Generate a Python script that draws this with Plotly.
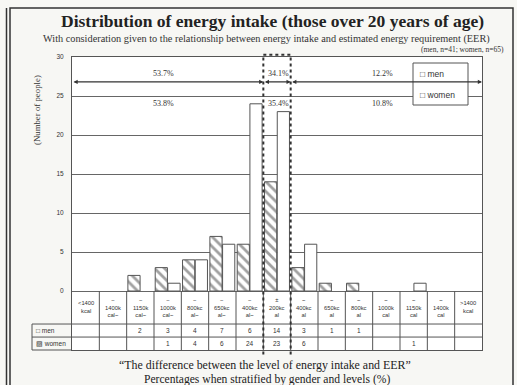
import plotly.graph_objects as go

# ---------------- data ----------------
categories = ["<1400", "-1400", "-1150", "-1000", "-800", "-650", "-400", "±200",
              "+400", "+650", "+800", "+1000", "+1150", "+1400", ">1400"]
cat_labels = ["<1400<br>kcal", "−<br>1400k<br>cal~", "−<br>1150k<br>cal~", "−<br>1000k<br>cal~",
              "−<br>800kc<br>al~", "−<br>650kc<br>al~", "−<br>400kc<br>al~", "±<br>200kc<br>al",
              "~<br>400kc<br>al", "~<br>650kc<br>al", "~<br>800kc<br>al", "~<br>1000k<br>cal",
              "~<br>1150k<br>cal", "~<br>1400k<br>cal", ">1400<br>kcal"]
men = [0, 0, 2, 3, 4, 7, 6, 14, 3, 1, 1, 0, 0, 0, 0]
women = [0, 0, 0, 1, 4, 6, 24, 23, 6, 0, 0, 0, 1, 0, 0]
men_pct = ["53.7%", "34.1%", "12.2%"]
women_pct = ["53.8%", "35.4%", "10.8%"]
y_ticks = [0, 5, 10, 15, 20, 25, 30]

# ---------------- style constants ----------------
YMIN, YMAX = -7.56, 30
LINE = "#555555"
TXT = "#333333"
SERIF = "Liberation Serif"
SANS = "Liberation Sans"
n = len(categories)


def py(v):  # data y -> paper y
    return (v - YMIN) / (YMAX - YMIN)


def px_x(p):  # pixel x -> paper x
    return (p - 72) / 410


def px_y(p):  # pixel y -> paper y
    return (350 - p) / 293


def note(**kw):
    kw.setdefault("showarrow", False)
    kw.setdefault("xanchor", "center")
    kw.setdefault("yanchor", "middle")
    return kw


fig = go.Figure()
fig.add_trace(go.Bar(
    x=categories, y=[v if v else None for v in men], name="men",
    marker=dict(color="white", line=dict(color=LINE, width=1),
                pattern=dict(shape="\\", fgcolor="#444444", bgcolor="white", size=7, solidity=0.4)),
))
fig.add_trace(go.Bar(
    x=categories, y=[v if v else None for v in women], name="women",
    marker=dict(color="white", line=dict(color=LINE, width=1)),
))

shapes = []
annotations = []

# table: column separators
for i in range(n - 1):
    shapes.append(dict(type="line", xref="x", yref="y", x0=i + 0.5, x1=i + 0.5, y0=0, y1=YMIN,
                       line=dict(color=LINE, width=1)))
row_top, row_mid = -4.23, -5.9
row_label_x = px_x(32)
for yv in [row_top, row_mid]:
    shapes.append(dict(type="line", xref="paper", yref="paper", x0=row_label_x, x1=1,
                       y0=py(yv), y1=py(yv), line=dict(color=LINE, width=1)))
shapes.append(dict(type="line", xref="paper", yref="paper", x0=row_label_x, x1=0,
                   y0=0, y1=0, line=dict(color=LINE, width=1)))
shapes.append(dict(type="line", xref="paper", yref="paper", x0=row_label_x, x1=row_label_x,
                   y0=0, y1=py(row_top), line=dict(color=LINE, width=1)))

# category labels and values (positioned by category index)
for i, (lab, m, w) in enumerate(zip(cat_labels, men, women)):
    annotations.append(note(x=i, y=-2.1, xref="x", yref="y", text=lab,
                            font=dict(size=5.8, color=TXT, family=SANS)))
    if m:
        annotations.append(note(x=i, y=(row_top + row_mid) / 2, xref="x", yref="y", text=str(m),
                                font=dict(size=6.5, color=TXT, family=SANS)))
    if w:
        annotations.append(note(x=i, y=(row_mid + YMIN) / 2, xref="x", yref="y", text=str(w),
                                font=dict(size=6.5, color=TXT, family=SANS)))
annotations.append(note(x=px_x(34), y=(row_top + row_mid) / 2, xref="paper", yref="y", xanchor="left",
                        text="□ men", font=dict(size=6.5, color=TXT, family=SANS)))
annotations.append(note(x=px_x(34), y=(row_mid + YMIN) / 2, xref="paper", yref="y", xanchor="left",
                        text="▨ women", font=dict(size=6.5, color=TXT, family=SANS)))

# dotted box around ±200 column
ci = categories.index("±200")
box_line = dict(color="#333333", width=2, dash="dot")
for xv in [ci - 0.5, ci + 0.5]:
    shapes.append(dict(type="line", xref="x", yref="paper", x0=xv, x1=xv, y0=-0.015, y1=1.008,
                       line=box_line, layer="above"))
shapes.append(dict(type="line", xref="x", yref="paper", x0=ci - 0.5, x1=ci + 0.5, y0=1.008, y1=1.008,
                   line=box_line, layer="above"))

# percentage arrows
arrow_y = 26.8
segments = [(-0.5, ci - 0.5), (ci - 0.5, ci + 0.5), (ci + 0.5, n - 0.5)]
label_x = [2.85, ci + 0.07, 10.85]
for (a, b), mp, wp, lx in zip(segments, men_pct, women_pct, label_x):
    annotations.append(dict(x=b, y=arrow_y, ax=a, ay=arrow_y, xref="x", yref="y", axref="x", ayref="y",
                            text="", showarrow=True, arrowhead=2, arrowsize=0.7, arrowwidth=1.2,
                            arrowside="end+start", arrowcolor="#333333", standoff=0, startstandoff=0))
    annotations.append(note(x=lx, y=27.9, xref="x", yref="y", text=mp,
                            font=dict(size=8, color=TXT, family=SERIF)))
    annotations.append(note(x=lx, y=24.0, xref="x", yref="y", text=wp,
                            font=dict(size=8, color=TXT, family=SERIF)))

# custom legend
shapes.append(dict(type="rect", xref="paper", yref="paper", x0=px_x(413), x1=px_x(468),
                   y0=px_y(105), y1=px_y(63), line=dict(color=LINE, width=1), fillcolor="white",
                   layer="above"))
annotations.append(note(x=px_x(418), y=px_y(74), xref="paper", yref="paper", xanchor="left",
                        text="□ men", font=dict(size=8.5, color=TXT, family=SANS)))
annotations.append(note(x=px_x(418), y=px_y(95), xref="paper", yref="paper", xanchor="left",
                        text="□ women", font=dict(size=8.5, color=TXT, family=SANS)))

# y-axis title
annotations.append(note(x=px_x(37), y=23.2, xref="paper", yref="y", text="(Number of people)",
                        textangle=-90, font=dict(size=8.8, color=TXT, family=SERIF)))

# titles
annotations.append(note(x=px_x(272), y=px_y(21), xref="paper", yref="paper",
                        text="<b>Distribution of energy intake (those over 20 years of age)</b>",
                        font=dict(size=17.5, color="#222222", family=SERIF)))
annotations.append(note(x=px_x(266), y=px_y(39), xref="paper", yref="paper",
                        text="With consideration given to the relationship between energy intake and estimated energy requirement (EER)",
                        font=dict(size=10.3, color=TXT, family=SERIF)))
annotations.append(note(x=px_x(506), y=px_y(49), xref="paper", yref="paper", xanchor="right",
                        text="(men, n=41; women, n=65)",
                        font=dict(size=7.5, color=TXT, family=SERIF)))
annotations.append(note(x=px_x(265), y=px_y(365), xref="paper", yref="paper",
                        text="\u201cThe difference between the level of energy intake and EER\u201d",
                        font=dict(size=11.9, color="#222222", family=SERIF)))
annotations.append(note(x=px_x(267), y=px_y(379), xref="paper", yref="paper",
                        text="Percentages when stratified by gender and levels (%)",
                        font=dict(size=11.6, color="#222222", family=SERIF)))

# outer frame
shapes.append(dict(type="rect", xref="paper", yref="paper", x0=px_x(10), x1=px_x(513),
                   y0=px_y(400), y1=px_y(8), line=dict(color="#333333", width=1.5)))
shapes.append(dict(type="line", xref="paper", yref="paper", x0=px_x(6.5), x1=px_x(6.5),
                   y0=px_y(400), y1=px_y(8), line=dict(color="#333333", width=1.5)))

fig.update_layout(
    width=517, height=385, margin=dict(l=72, r=35, t=57, b=35),
    paper_bgcolor="#f7f7f4", plot_bgcolor="white",
    barmode="group", bargap=0.07, bargroupgap=0.04, showlegend=False,
    font=dict(family=SERIF, color=TXT),
    shapes=shapes, annotations=annotations,
)
fig.update_xaxes(type="category", range=[-0.5, n - 0.5], showticklabels=False, ticks="",
                 showgrid=False, showline=True, mirror=True, linecolor=LINE, linewidth=1, zeroline=False)
fig.update_yaxes(range=[YMIN, YMAX], tickvals=y_ticks, ticktext=[str(t) for t in y_ticks],
                 showgrid=True, gridcolor="#666666", gridwidth=1, showline=True, mirror=True,
                 linecolor=LINE, linewidth=1, zeroline=False, ticks="",
                 tickfont=dict(size=6.5, color=TXT, family=SANS), ticklabelstandoff=6)

fig.write_html("out.html")
